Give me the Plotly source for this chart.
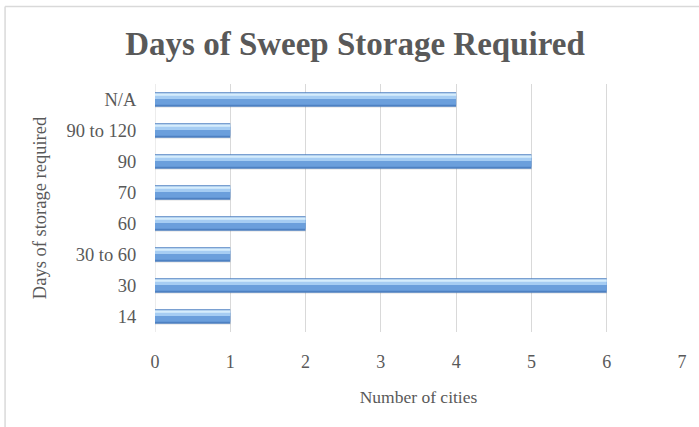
import plotly.graph_objects as go

categories = ["14", "30", "30 to 60", "60", "70", "90", "90 to 120", "N/A"]
cities = [1, 6, 1, 2, 1, 5, 1, 4]
x_ticks = [0, 1, 2, 3, 4, 5, 6, 7]

title_text = "Days of Sweep Storage Required"
x_title = "Number of cities"
y_title = "Days of storage required"

FONT = "Liberation Serif"
GREY = "#595959"

fig = go.Figure()

# layered bars give the bevelled gradient look
layers = [
    (-0.27, 0.46, "rgba(0,0,0,0.09)"),
    (-0.23, 0.46, "#4e81c2"),
    (-0.17, 0.29, "#6b9fdc"),
    (0.02, 0.15, "#a6cdf3"),
    (0.12, 0.08, "#d6edfc"),
]
for off, w, col in layers:
    fig.add_trace(go.Bar(
        x=cities, y=categories, orientation="h",
        offset=off, width=w,
        marker=dict(color=col, line=dict(width=0)),
        hoverinfo="skip", showlegend=False,
    ))

fig.update_layout(
    width=699, height=427,
    margin=dict(l=155, r=15, t=84, b=95),
    paper_bgcolor="white", plot_bgcolor="white",
    barmode="overlay",
    title=dict(text=title_text, x=355 / 699, xref="container", xanchor="center",
               y=1 - 43 / 427, yref="container", yanchor="middle",
               font=dict(family=FONT, size=33, color=GREY, weight="bold")),
    font=dict(family=FONT, size=18, color=GREY),
    xaxis=dict(range=[0, 7], tickvals=x_ticks, showgrid=True, gridcolor="#d9d9d9",
               gridwidth=1, zeroline=False, showline=False,
               ticks="outside", ticklen=13, tickcolor="rgba(0,0,0,0)",
               tickfont=dict(family=FONT, size=18, color=GREY),
               title=dict(text=x_title, standoff=20,
                          font=dict(family=FONT, size=17.5, color=GREY))),
    yaxis=dict(type="category", categoryorder="array", categoryarray=categories,
               range=[-0.5, 7.5], showgrid=False, zeroline=False, showline=False,
               ticks="outside", ticklen=14, tickcolor="rgba(0,0,0,0)",
               tickfont=dict(family=FONT, size=18.5, color=GREY),
               title=dict(text=y_title, standoff=14,
                          font=dict(family=FONT, size=18.5, color=GREY))),
    shapes=[
        dict(type="line", xref="paper", yref="paper",
             x0=-0.2845, x1=1.05, y0=1.3125, y1=1.3125,
             line=dict(color="#d9d9d9", width=1.5)),
        dict(type="line", xref="paper", yref="paper",
             x0=-0.2845, x1=-0.2845, y0=-0.4, y1=1.3125,
             line=dict(color="#d9d9d9", width=1.5)),
        dict(type="line", xref="x", yref="paper", x0=0, x1=0, y0=0, y1=1,
             line=dict(color="#d9d9d9", width=1), layer="below"),
    ],
)

fig.write_html(
    "out.html",
    config={"displayModeBar": False},
    post_script="document.body.style.margin='0';document.body.style.padding='0';",
)
